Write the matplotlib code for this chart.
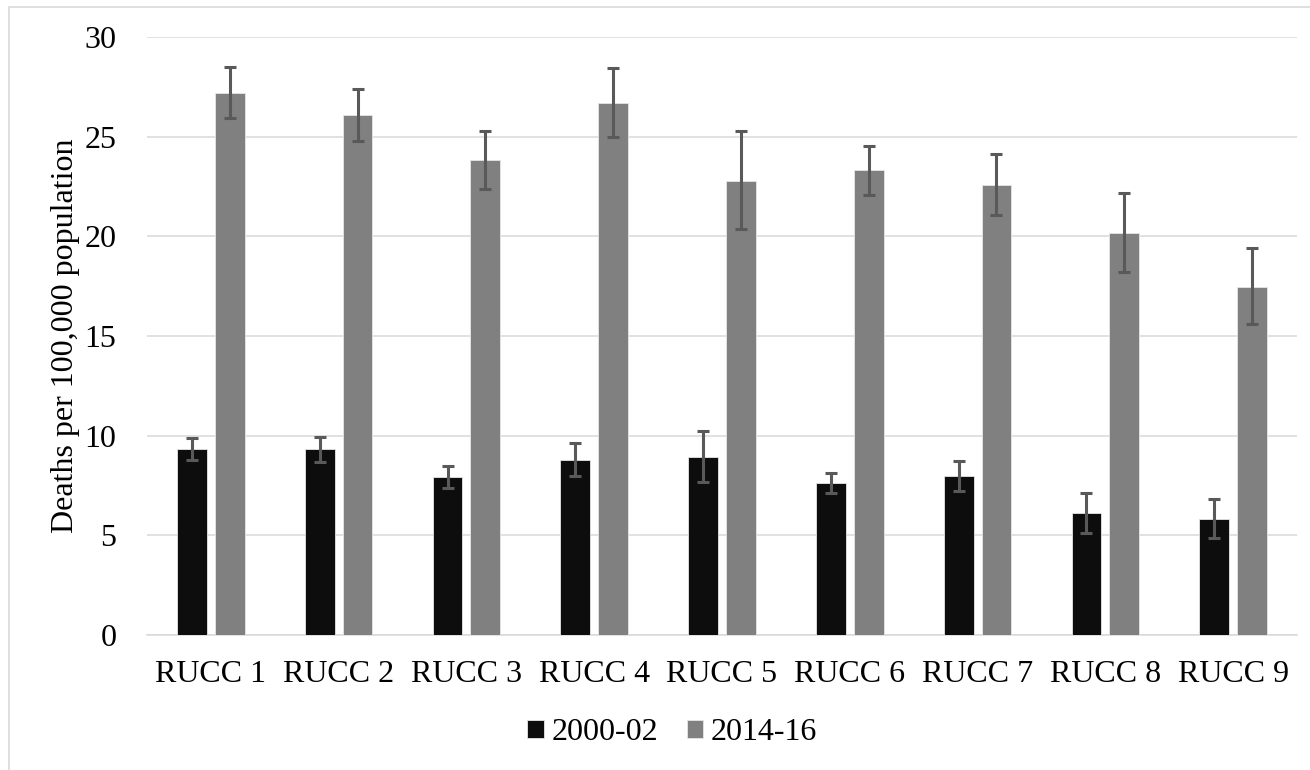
import matplotlib
matplotlib.use("Agg")
import matplotlib.pyplot as plt
import numpy as np
from matplotlib.patches import Rectangle

categories = ["RUCC 1", "RUCC 2", "RUCC 3", "RUCC 4", "RUCC 5",
              "RUCC 6", "RUCC 7", "RUCC 8", "RUCC 9"]
series_names = ["2000-02", "2014-16"]
rate_2000 = [9.33, 9.31, 7.92, 8.79, 8.93, 7.64, 7.96, 6.11, 5.83]
low_2000 = [8.77, 8.69, 7.38, 7.98, 7.68, 7.14, 7.22, 5.14, 4.88]
high_2000 = [9.88, 9.94, 8.47, 9.62, 10.22, 8.15, 8.73, 7.10, 6.81]
rate_2014 = [27.18, 26.07, 23.81, 26.71, 22.80, 23.31, 22.56, 20.16, 17.48]
low_2014 = [25.93, 24.78, 22.36, 24.98, 20.36, 22.08, 21.05, 18.19, 15.58]
high_2014 = [28.47, 27.38, 25.26, 28.43, 25.26, 24.54, 24.11, 22.18, 19.42]
y_ticks = [0, 5, 10, 15, 20, 25, 30]
y_label = "Deaths per 100,000 population"

plt.rcParams['font.family'] = ['Liberation Serif', 'DejaVu Serif']

W, H = 1310, 770
FS = 23
fig = plt.figure(figsize=(W / 100, H / 100), dpi=100)
ax = fig.add_axes([147 / W, 1 - 635 / H, (1297 - 147) / W, (635 - 37) / H])

x = np.arange(len(categories))
bw = 0.233
off = 0.148
err_kw = dict(ecolor="#595959", elinewidth=2.2, capsize=4.6, capthick=2.2)

r0 = np.array(rate_2000)
r1 = np.array(rate_2014)
e0 = [r0 - np.array(low_2000), np.array(high_2000) - r0]
e1 = [r1 - np.array(low_2014), np.array(high_2014) - r1]

ax.bar(x - off, r0, bw, color="#0D0D0D", edgecolor="#E6E6E6", linewidth=0.6,
       yerr=e0, error_kw=err_kw, label=series_names[0], zorder=3)
ax.bar(x + off, r1, bw, color="#808080", edgecolor="#E6E6E6", linewidth=0.6,
       yerr=e1, error_kw=err_kw, label=series_names[1], zorder=3)

ax.set_xlim(-0.5, len(categories) - 0.5)
ax.set_ylim(0, 30)
ax.set_yticks(y_ticks)
ax.set_xticks(x)
ax.set_xticklabels(categories)
ax.tick_params(axis='both', length=0, labelsize=FS, colors="#000000")
ax.tick_params(axis='y', pad=22)
ax.tick_params(axis='x', pad=18)
ax.yaxis.grid(True, color="#D9D9D9", linewidth=1.1, zorder=0)
ax.set_axisbelow(True)
for s in ["top", "right", "left"]:
    ax.spines[s].set_visible(False)
ax.spines["bottom"].set_color("#D9D9D9")
ax.spines["bottom"].set_linewidth(1.1)

ax.set_ylabel(y_label, fontsize=FS)
ax.yaxis.set_label_coords((80 - 147) / (1297 - 147), 0.5)

handles, labels = ax.get_legend_handles_labels()
leg = fig.legend(handles, labels, loc="center", bbox_to_anchor=(672 / W, 1 - 733 / H),
                 ncol=2, frameon=False, fontsize=FS, handlelength=0.52,
                 handleheight=0.52, handletextpad=0.22, columnspacing=0.9)

fig.patches.append(Rectangle((8.5 / W, -0.1), 2, 1 - 6.5 / H + 0.1,
                             transform=fig.transFigure, fill=False,
                             edgecolor="#D9D9D9", linewidth=1.2))

fig.savefig("out.png", dpi=100)
